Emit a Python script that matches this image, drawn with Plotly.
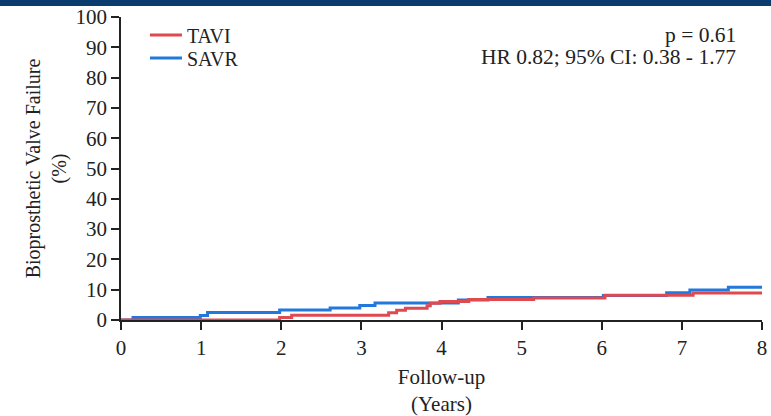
import plotly.graph_objects as go

# Kaplan-Meier style cumulative incidence (%)
tavi_years = [0, 1.98, 2.13, 3.34, 3.44, 3.55, 3.82, 3.86, 3.98, 4.34, 5.15, 6.04, 7.14, 8.0]
tavi_pct = [0, 0.8, 1.6, 2.4, 3.2, 3.9, 4.7, 5.5, 6.1, 6.8, 7.3, 8.2, 8.9, 8.9]

savr_years = [0, 0.15, 0.99, 1.08, 1.98, 2.61, 2.98, 3.17, 4.21, 4.58, 6.02, 6.81, 7.1, 7.58, 8.0]
savr_pct = [0, 0.8, 1.5, 2.5, 3.3, 4.0, 4.8, 5.6, 6.6, 7.4, 8.1, 9.0, 9.9, 10.8, 10.8]

x_ticks = [0, 1, 2, 3, 4, 5, 6, 7, 8]
y_ticks = [0, 10, 20, 30, 40, 50, 60, 70, 80, 90, 100]

stats_lines = ["p = 0.61", "HR 0.82; 95% CI: 0.38 - 1.77"]

RED = "#DE4A50"
BLUE = "#2278DC"
INK = "#222222"
FONT = "Liberation Serif, Times New Roman, serif"

fig = go.Figure()
fig.add_trace(go.Scatter(x=savr_years, y=savr_pct, mode="lines", name="SAVR",
                         line=dict(color=BLUE, width=3, shape="hv"),
                         cliponaxis=False, legend="legend2"))
fig.add_trace(go.Scatter(x=tavi_years, y=tavi_pct, mode="lines", name="TAVI",
                         line=dict(color=RED, width=3, shape="hv"),
                         cliponaxis=False, legend="legend"))

axis_common = dict(showgrid=False, zeroline=False, showline=True, linecolor=INK,
                   linewidth=1.5, ticks="outside", ticklen=8, tickwidth=1.5,
                   tickcolor=INK, layer="below traces", automargin=False,
                   tickfont=dict(family=FONT, size=21, color=INK))

fig.update_xaxes(range=[0, 8], tickvals=x_ticks, ticktext=[str(v) for v in x_ticks],
                 title=dict(text="Follow-up<br>(Years)", standoff=10,
                            font=dict(family=FONT, size=21, color=INK)),
                 **axis_common)
fig.update_yaxes(range=[0, 100], tickvals=y_ticks, ticktext=[str(v) for v in y_ticks],
                 title=dict(text="Bioprosthetic Valve Failure<br>(%)", standoff=4,
                            font=dict(family=FONT, size=20, color=INK)),
                 **axis_common)

fig.add_annotation(xref="paper", yref="paper", x=0.9626, y=0.941, xanchor="right",
                   yanchor="middle", text=stats_lines[0], showarrow=False,
                   font=dict(family=FONT, size=21.5, color=INK))
fig.add_annotation(xref="paper", yref="paper", x=0.9626, y=0.868, xanchor="right",
                   yanchor="middle", text=stats_lines[1], showarrow=False,
                   font=dict(family=FONT, size=21.5, color=INK))

# dark banner strip at the very top of the image
fig.add_shape(type="rect", xref="paper", yref="paper",
              x0=-121 / 641, x1=1 + 9 / 641, y0=1 + 11 / 303, y1=1 + 17 / 303,
              fillcolor="#0B3C70", line=dict(width=0), layer="above")

legend_style = dict(xanchor="left", yanchor="middle", bgcolor="rgba(0,0,0,0)",
                    itemwidth=32, font=dict(family=FONT, size=20, color=INK))

fig.update_layout(
    width=771, height=416,
    margin=dict(l=121, r=9, t=17, b=96),
    paper_bgcolor="white", plot_bgcolor="white",
    font=dict(family=FONT, size=20, color=INK),
    showlegend=True,
    legend=dict(x=0.0374, y=1 - 18 / 303, **legend_style),
    legend2=dict(x=0.0374, y=1 - 41 / 303, **legend_style),
)

fig.write_html("out.html")
